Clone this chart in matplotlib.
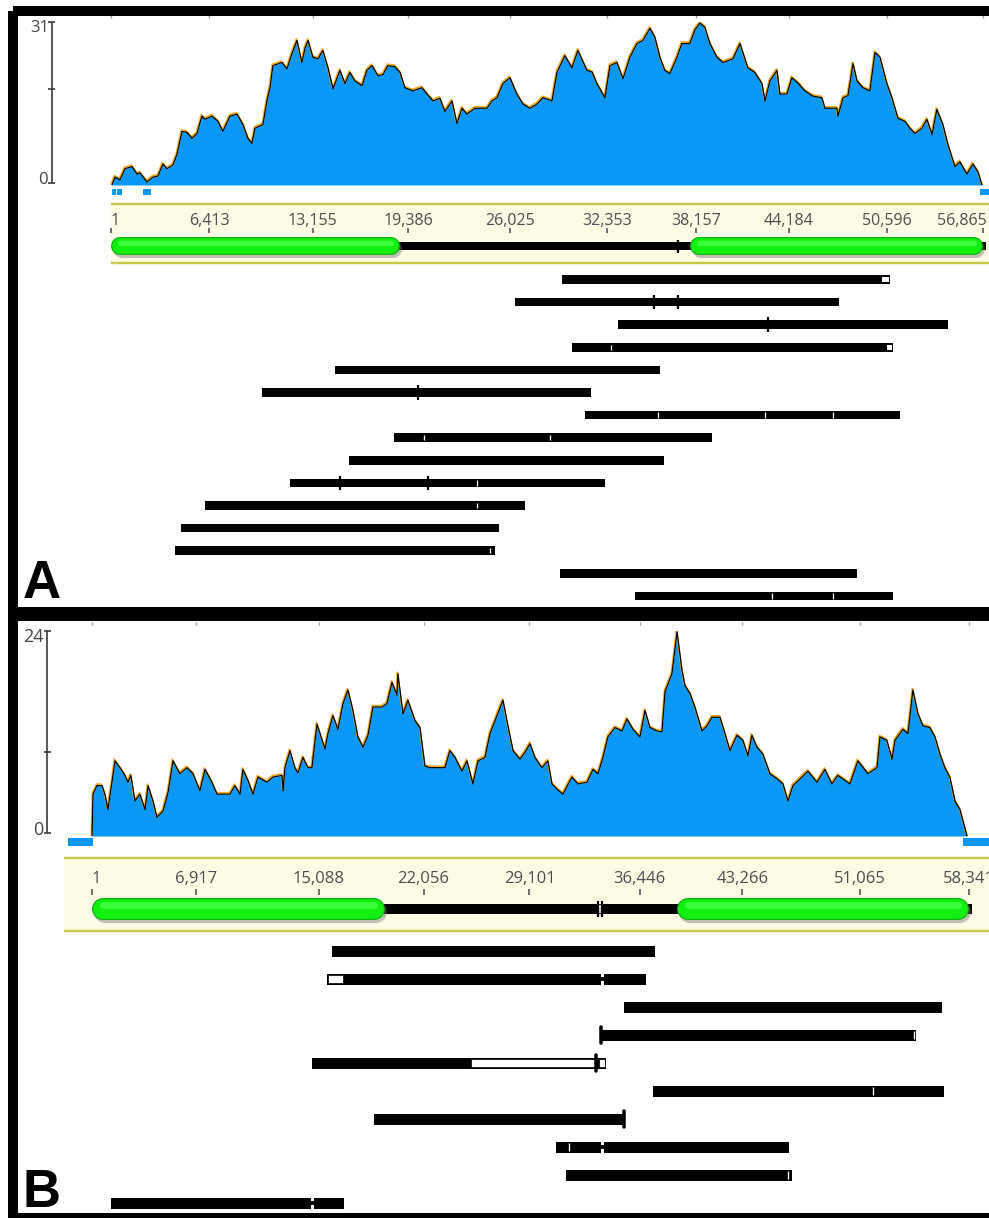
import matplotlib
matplotlib.use("Agg")
import matplotlib.pyplot as plt
import matplotlib.patheffects as pe
from matplotlib.patches import Rectangle
from matplotlib.transforms import offset_copy
import numpy as np

W, H = 989, 1218
PT = 0.72  # points per pixel at dpi 100

# ============================ DATA ============================
# ---- Panel A ----
A_ruler = [1, 6413, 13155, 19386, 26025, 32353, 38157, 44184, 50596, 56865]
A_cov_max = 31
A_cov_pos = [65, 260, 590, 910, 1370, 1700, 1890, 2350, 2740, 3060, 3390, 3650, 4040, 4300,
             4630, 4960, 5280, 5610, 5930, 6130, 6590, 6980, 7300, 7760, 8220, 8610, 8930,
             9190, 9390, 9910, 10170, 10370, 10560, 11150, 11480, 11800, 12130, 12450,
             12650, 12850, 13170, 13500, 13820, 14150, 14480, 14930, 15260, 15580, 15910,
             16370, 16690, 17020, 17410, 17740, 18060, 18520, 18850, 19170, 19690, 20280,
             20610, 21000, 21450, 21780, 22240, 22560, 22890, 23210, 23740, 24520, 24840,
             25170, 25560, 26020, 26470, 26870, 27320, 27780, 28170, 28760, 29080, 29600,
             30060, 30450, 31040, 31370, 31690, 32210, 32540, 33000, 33390, 33840, 34300,
             34690, 35150, 35470, 35800, 36120, 36450, 36910, 37230, 37750, 38080, 38410,
             38730, 39060, 39520, 39910, 40560, 41020, 41530, 41990, 42450, 42650, 42970,
             43430, 43620, 44080, 44400, 44800, 45250, 45780, 46360, 46560, 47340, 47410,
             47740, 48060, 48390, 48650, 49040, 49490, 49820, 50150, 50600, 50930, 51320,
             51780, 52100, 52430, 52880, 53210, 53540, 53860, 54250, 54580, 55040, 55360,
             55820, 56210, 56540, 56800]
A_cov_val = [0, 1.5, 1.0, 3.1, 3.5, 2.1, 2.3, 0.6, 1.5, 1.7, 4.0, 3.1, 3.8, 5.8,
             10.2, 10.0, 8.9, 9.8, 13.1, 12.5, 13.1, 12.1, 10.2, 13.1, 13.5, 11.5, 8.9,
             7.9, 10.8, 11.5, 16.0, 18.5, 22.7, 23.3, 22.1, 25.0, 27.5, 23.3,
             26.0, 27.5, 24.3, 24.0, 25.6, 22.3, 18.3, 21.8, 19.3, 21.4, 19.8,
             18.9, 21.8, 22.7, 20.8, 21.0, 22.7, 22.5, 21.4, 18.5, 17.9, 18.5,
             17.3, 16.0, 16.5, 14.0, 16.0, 11.7, 14.6, 13.5, 14.6, 14.6, 16.0,
             16.6, 19.3, 20.4, 17.3, 15.4, 14.6, 15.4, 16.6, 16.0, 21.4, 24.6,
             22.3, 25.6, 21.8, 21.5, 19.3, 16.6, 22.7, 23.3, 20.2, 24.3, 26.9,
             27.5, 29.8, 28.1, 24.3, 21.8, 21.2, 24.3, 26.9, 26.9, 29.5, 30.8,
             30.0, 26.9, 24.3, 23.3, 24.0, 26.9, 22.3, 21.4, 19.3, 16.0, 19.8,
             21.8, 17.3, 17.3, 20.4, 19.4, 17.9, 16.9, 16.6, 14.6, 14.6, 13.1,
             16.6, 17.0, 23.1, 19.8, 18.5, 17.9, 25.2, 24.3, 19.3, 16.6, 12.7,
             12.1, 10.8, 9.8, 10.8, 12.5, 9.6, 14.4, 11.5, 7.7, 3.5, 4.4,
             2.1, 4.0, 2.5, 0]
A_gaps = [(47, 327), (392, 700), (2068, 2610), (56670, 57400)]
A_genes = [(1, 18847), (37757, 56865)]
A_gene_marks = [36974]
A_read_start = [29410, 26345, 33062, 30062, 14607, 9847, 30910, 18454, 15520, 11673,
                6130, 4565, 4173, 29279, 34170]
A_read_end = [50800, 47473, 54581, 50995, 35800, 31301, 51451, 39191, 36061, 32214,
              26997, 25301, 25040, 48647, 50995]
A_black_ticks = [(1, 35409), (1, 36974), (2, 42843), (5, 20019), (9, 14933), (9, 20672)]
A_white_ticks = [(3, 32605), (6, 35670), (6, 42648), (6, 47081), (7, 20411), (7, 28627),
                 (9, 23867), (10, 23867), (12, 24714), (14, 43104), (14, 47081)]
A_boxes = [(0, 50277, 50733), (3, 50603, 50929)]

# ---- Panel B ----
B_ruler = [1, 6917, 15088, 22056, 29101, 36446, 43266, 51065, 58341]
B_cov_max = 24
B_cov_pos = [1, 70, 330, 670, 860, 1060, 1330, 1530, 1860, 2200, 2390, 2590, 2860, 3190,
             3530, 3730, 4060, 4320, 4720, 5060, 5390, 5850, 6320, 6720, 7180, 7520, 7980,
             8320, 9180, 9510, 9850, 10040, 10380, 10710, 11040, 11640, 12040, 12640, 12710,
             12840, 13170, 13500, 13700, 14040, 14370, 14630, 14970, 15170, 15500, 15700,
             16030, 16360, 16700, 17030, 17360, 17690, 18030, 18360, 18690, 19290, 19620,
             19960, 20290, 20350, 20690, 21020, 21490, 21820, 22150, 22480, 23480, 23810,
             24150, 24610, 24950, 25340, 25680, 26140, 26480, 26940, 27340, 27670, 28010,
             28470, 28800, 29140, 29470, 29930, 30330, 30600, 30930, 31330, 31930, 32330,
             32930, 33330, 33660, 33990, 34320, 34790, 35260, 35590, 35990, 36450, 36790,
             37120, 37580, 37920, 38120, 38580, 38920, 39250, 39450, 39780, 40110, 40580,
             40910, 41240, 41780, 42110, 42440, 42910, 43300, 43640, 43900, 44240, 44630,
             45100, 45570, 45970, 46300, 46630, 47230, 47630, 48230, 48760, 49220, 49620,
             50420, 50950, 51620, 52220, 52420, 52880, 53220, 53420, 53950, 54280, 54610,
             54950, 55280, 55740, 56080, 56410, 56740, 57070, 57410, 57740, 58210]
B_cov_val = [0, 4.9, 5.9, 5.9, 4.9, 3.1, 6.3, 8.8, 8.0, 7.1, 6.3, 7.1, 4.1, 4.9,
             3.1, 5.9, 4.1, 2.2, 2.9, 5.1, 8.8, 7.3, 8.0, 7.3, 5.3, 7.8, 6.3,
             4.9, 4.9, 5.9, 4.9, 7.8, 6.5, 4.9, 6.9, 6.3, 6.9, 7.1, 5.3,
             8.0, 10.0, 8.0, 7.4, 9.2, 8.0, 8.0, 13.1, 12.0, 10.2, 12.0,
             14.1, 12.5, 15.5, 17.1, 14.7, 11.6, 10.4, 11.8, 15.1, 15.1, 15.5,
             18.0, 16.5, 19.0, 14.3, 15.9, 13.5, 12.7, 8.2, 8.0, 8.0, 10.0,
             9.2, 7.6, 8.8, 6.1, 8.8, 9.2, 12.0, 14.1, 15.9, 12.9, 10.0,
             9.0, 9.8, 10.8, 9.2, 8.0, 8.8, 6.1, 5.5, 4.9, 6.9, 6.1,
             6.3, 7.8, 7.3, 9.2, 11.6, 12.7, 12.3, 13.7, 12.5, 11.6, 14.7,
             12.7, 12.3, 12.2, 16.9, 19.0, 23.9, 19.4, 17.6, 16.7, 15.1, 12.3,
             12.9, 13.9, 13.9, 12.0, 10.0, 11.8, 11.2, 9.4, 11.8, 10.4, 9.6,
             7.3, 6.7, 6.1, 4.1, 5.9, 6.9, 7.6, 6.3, 7.8, 6.1, 7.1,
             6.1, 8.8, 7.3, 8.0, 11.6, 11.2, 9.0, 11.2, 12.5, 12.0, 17.1,
             14.3, 12.9, 12.7, 11.6, 9.6, 8.0, 6.9, 4.1, 3.1, 0]
B_gaps = [(-1600, 66), (57940, 59800)]
B_genes = [(1, 19491), (38916, 58341)]
B_gene_marks = [33660, 33925]
B_read_start = [15966, 15632, 35389, 33859, 14634, 37318, 18759, 30866, 31531, 1264]
B_read_end = [37451, 36852, 56542, 54813, 34200, 56675, 35389, 46365, 46564, 16763]
B_hollow = [(1, 15700, 16700), (4, 25210, 33460), (4, 33700, 34130)]
B_breaks = [(1, 33925), (7, 33925), (9, 14634)]
B_caps = [(3, 33859), (6, 35389), (4, 33560)]
B_white_ticks = [(3, 54680), (5, 51952), (7, 31731), (8, 46298)]

# ============================ STYLE / LAYOUT ============================
BLUE = "#0a97f6"
ORANGE = "#f2a81c"
RULER_BG = "#fdfde6"
RULER_LINE = "#c9c84a"
FONT = "Open Sans"

fig = plt.figure(figsize=(W / 100, H / 100), dpi=100)

bg = fig.add_axes([0, 0, 1, 1])
bg.set_xlim(0, W); bg.set_ylim(H, 0); bg.axis("off")


def make_panel(p):
    k = (p["ruler"][-1] - 1) / (p["px1"] - p["px0"])  # bp per pixel

    def px2bp(x):
        return 1 + (x - p["px0"]) * k
    xlim = (px2bp(0), px2bp(W))

    # coverage axes
    cov = fig.add_axes([0, 1 - p["cov_bot"] / H, 1, (p["cov_bot"] - p["cov_top"]) / H])
    cov.set_xlim(*xlim); cov.set_ylim(0, p["cov_max"]); cov.axis("off")
    pos = np.array(p["cov_pos"]); val = np.array(p["cov_val"])
    cov.fill_between(pos, 0, val, color=BLUE, lw=0)
    tr_o = offset_copy(cov.transData, fig=fig, x=-0.4, y=1.0, units="points")
    cov.plot(pos, val, color=ORANGE, lw=1.3, transform=tr_o)
    cov.plot(pos, val, color="black", lw=0.9)

    ax = fig.add_axes([0, 0, 1, 1])
    ax.set_xlim(*xlim); ax.set_ylim(H, 0); ax.axis("off"); ax.patch.set_alpha(0)

    # y axis of coverage
    yx = px2bp(p["yaxis_x"])
    c = "#3a3a3a"
    ax.vlines(yx, p["cov_top"], p["cov_zero"], color=c, lw=1.2)
    for yy in (p["cov_top"], p["yaxis_mid"], p["cov_zero"]):
        ax.hlines(yy, px2bp(p["yaxis_x"] - 3.5), px2bp(p["yaxis_x"] + 3.5), color=c, lw=1.2)
    ax.text(px2bp(p["yaxis_x"] - 3), p["cov_top"] + 6, str(p["cov_max"]), ha="right",
            va="center", fontsize=p["yfs"], color="#444", family=FONT)
    ax.text(px2bp(p["yaxis_x"] - 4), p["cov_zero"] - 3, "0", ha="right", va="center",
            fontsize=p["yfs"], color="#444", family=FONT)

    # zero-coverage markers
    for s, e in p["gaps"]:
        ax.add_patch(Rectangle((s, p["gap_y"]), e - s, p["gap_h"], color=BLUE, lw=0))

    # small ticks under top border
    ax.vlines(p["ruler"], p["top_tick_y"], p["top_tick_y"] + 3, color="#999", lw=1)

    # ruler band
    x0 = px2bp(p["band_x0"]); x1 = px2bp(W + 5)
    ax.add_patch(Rectangle((x0, p["band_top"]), x1 - x0, p["band_bot"] - p["band_top"],
                           fc=RULER_BG, ec="none"))
    ax.hlines([p["band_top"], p["band_bot"]], x0, x1, color=RULER_LINE, lw=2.4 * PT)
    n = len(p["ruler"])
    for i, t in enumerate(p["ruler"]):
        lab = f"{t:,}"
        ha = "center"; xx = t
        if i == 0:
            ha = "left"
        elif i == n - 1 and p["last_right"]:
            ha = "right"; xx = t + 4 * k
        ax.text(xx, p["lab_y"], lab, ha=ha, va="center", fontsize=p["rfs"],
                color="#4d4d4d", family=FONT)
    ax.vlines(p["ruler"], p["tick_y0"], p["tick_y1"], color="#555", lw=1.2)

    # genome annotation: connector + genes
    gy = p["gene_y"]; gh = p["gene_h"]
    (s1, e1), (s2, e2) = p["genes"]
    ax.hlines(gy, e1 - 5 * k, s2 + 5 * k, color="black", lw=p["link_h"] * PT)
    ax.hlines(gy, e2 - 5 * k, e2 + 3 * k, color="black", lw=p["link_h"] * PT)
    for m in p["gene_marks"]:
        ax.vlines(m, gy - p["mark_h"] / 2, gy + p["mark_h"] / 2, color="black", lw=2.2 * PT)
    if len(p["gene_marks"]) == 2:
        mid = sum(p["gene_marks"]) / 2
        ax.vlines(mid, gy - p["link_h"] / 2 + 1, gy + p["link_h"] / 2 - 1, color="white", lw=1.6 * PT)
    r = gh / 2 * k
    for s, e in p["genes"]:
        ax.plot([s + r, e - r], [gy, gy], color="#10b010", lw=gh * PT, solid_capstyle="round",
                path_effects=[pe.SimpleLineShadow(offset=(1.5, -2.0), shadow_color="#777",
                                                  alpha=0.45), pe.Normal()])
        ax.plot([s + r, e - r], [gy, gy], color="#12f012", lw=(gh - 2.4) * PT,
                solid_capstyle="round")
        ax.plot([s + r, e - r], [gy - gh * 0.16, gy - gh * 0.16], color="#3cff3c",
                lw=gh * 0.3 * PT, solid_capstyle="round")

    # reads
    rows = [p["row0"] + i * p["row_step"] for i in range(len(p["read_start"]))]
    h = p["read_h"]
    for y, s, e in zip(rows, p["read_start"], p["read_end"]):
        ax.add_patch(Rectangle((s, y - h / 2), e - s, h, fc="black", ec="none"))
    for i, s, e in p.get("hollow", []):
        ax.add_patch(Rectangle((s, rows[i] - h / 2 + 1.5), e - s, h - 3, fc="white",
                               ec="#222", lw=0.7))
    for i, s, e in p.get("boxes", []):
        ax.add_patch(Rectangle((s, rows[i] - h / 2 + 1.6), e - s, h - 3.2, fc="white",
                               ec="none"))
    for i, x in p.get("white_ticks", []):
        ax.vlines(x, rows[i] - h * 0.32, rows[i] + h * 0.32, color="white", lw=1.3 * PT)
    for i, x in p.get("black_ticks", []):
        ax.vlines(x, rows[i] - h * 0.85, rows[i] + h * 0.85, color="black", lw=2.2 * PT)
    for i, x in p.get("breaks", []):
        ax.vlines(x, rows[i] - h / 2 - 0.5, rows[i] + h / 2 + 0.5, color="white", lw=3 * PT)
        ax.hlines(rows[i], x - 2 * k, x + 2 * k, color="black", lw=h * 0.35 * PT)
    for i, x in p.get("caps", []):
        ax.plot([x, x], [rows[i] - h * 0.72, rows[i] + h * 0.72], color="black",
                lw=3.5 * PT, solid_capstyle="round")


panelA = dict(ruler=A_ruler, px0=111, px1=983, cov_top=22, cov_bot=185, cov_zero=183,
              cov_max=A_cov_max, cov_pos=A_cov_pos, cov_val=A_cov_val, yaxis_x=52,
              yaxis_mid=89, yfs=12, gaps=A_gaps, gap_y=189, gap_h=6, top_tick_y=15,
              band_x0=111, band_top=204, band_bot=263, lab_y=221, rfs=11.5, last_right=True,
              tick_y0=228, tick_y1=233, genes=A_genes, gene_y=246, gene_h=18, link_h=8,
              gene_marks=A_gene_marks, mark_h=13, read_start=A_read_start,
              read_end=A_read_end, row0=279.5, row_step=22.6, read_h=8.5,
              boxes=A_boxes, white_ticks=A_white_ticks, black_ticks=A_black_ticks)
panelB = dict(ruler=B_ruler, px0=92, px1=969, cov_top=631, cov_bot=836, cov_zero=833,
              cov_max=B_cov_max, cov_pos=B_cov_pos, cov_val=B_cov_val, yaxis_x=47,
              yaxis_mid=752, yfs=13, gaps=B_gaps, gap_y=838, gap_h=8, top_tick_y=622,
              band_x0=64, band_top=858, band_bot=931, lab_y=879, rfs=12, last_right=False,
              tick_y0=889, tick_y1=895, genes=B_genes, gene_y=909, gene_h=22, link_h=10,
              gene_marks=B_gene_marks, mark_h=16, read_start=B_read_start,
              read_end=B_read_end, row0=951, row_step=28, read_h=11,
              hollow=B_hollow, white_ticks=B_white_ticks, breaks=B_breaks, caps=B_caps)

make_panel(panelA)
make_panel(panelB)

# frames and panel letters
fr = fig.add_axes([0, 0, 1, 1])
fr.set_xlim(0, W); fr.set_ylim(H, 0); fr.axis("off"); fr.patch.set_alpha(0)
fr.add_patch(Rectangle((13, 11), 1000, 601, fill=False, ec="black", lw=10 * PT,
                       joinstyle="miter"))
fr.add_patch(Rectangle((13, 616), 1000, 602, fill=False, ec="black", lw=10 * PT,
                       joinstyle="miter"))
fr.text(23, 598, "A", fontsize=38, fontweight="bold", family="Liberation Sans",
        ha="left", va="baseline")
fr.text(23, 1207, "B", fontsize=38, fontweight="bold", family="Liberation Sans",
        ha="left", va="baseline")

fig.savefig("out.png", dpi=100, facecolor="white")
